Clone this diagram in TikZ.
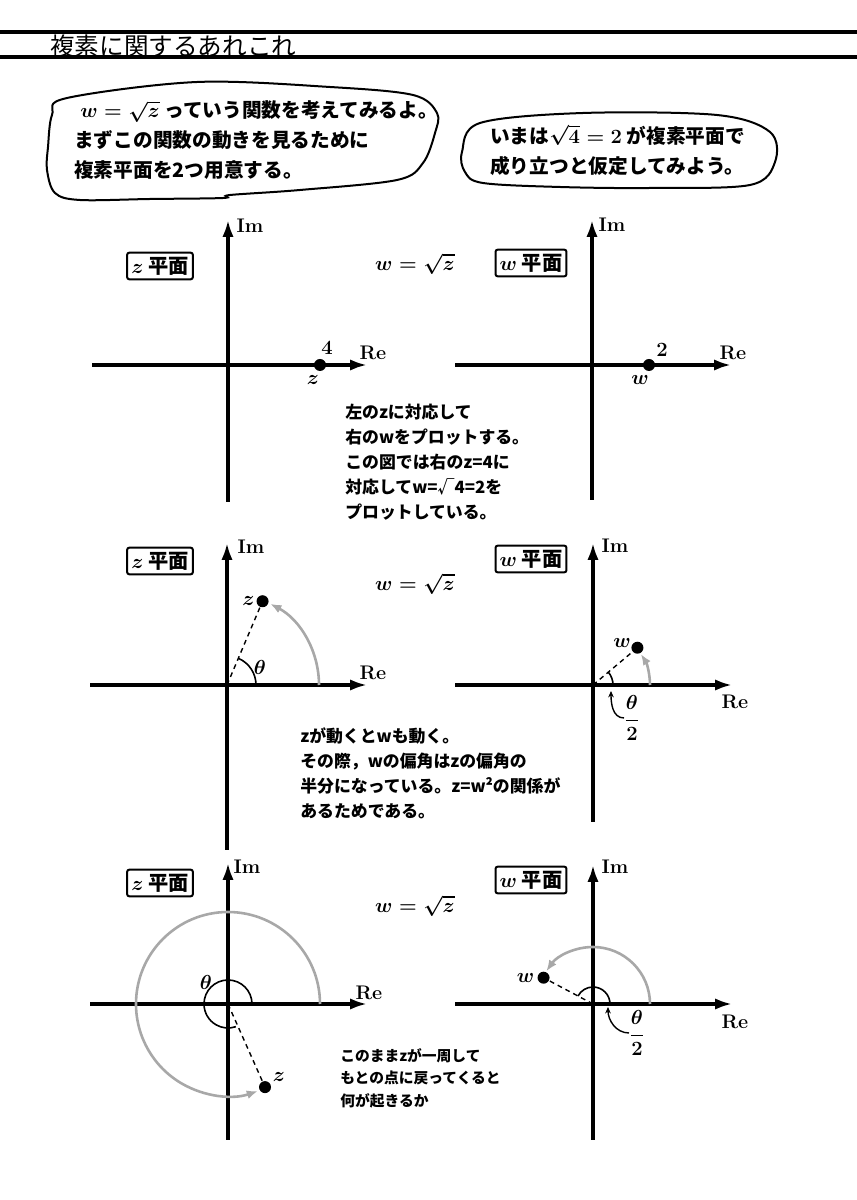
\documentclass[tikz,border=0pt]{standalone}
\usepackage{fontspec}
\newfontfamily\jp{Noto Sans CJK JP}
\definecolor{arcgray}{RGB}{168,168,168}
\usetikzlibrary{arrows.meta,positioning}

\begin{document}
\begin{tikzpicture}[x=0.25mm,y=0.25mm,
  axis/.style={line width=0.8mm,-{Latex[length=4.2mm,width=2.8mm]}},
  dot/.style={circle,fill=black,inner sep=0pt,minimum size=3mm},
  planebox/.style={draw,line width=0.5mm,rounded corners=1.5pt,inner sep=3pt,
                   font=\fontsize{14.4}{16}\selectfont\jp\bfseries\boldmath},
  axlabel/.style={font=\fontsize{14}{16}\selectfont\bfseries,inner sep=0pt},
  ptlabel/.style={font=\fontsize{14.4}{16}\selectfont\bfseries\boldmath,inner sep=0pt},
  mapping/.style={font=\fontsize{14.4}{17}\selectfont\boldmath,inner sep=0pt},
  movearc/.style={arcgray,line width=0.65mm,-{Latex[length=2.8mm,width=2.2mm]}},
  anglearc/.style={line width=0.4mm},
  dashln/.style={line width=0.35mm,dash pattern=on 1.2mm off 1mm},
  pointer/.style={line width=0.35mm,-{Stealth[length=1.6mm,width=1.4mm]}},
  bubble/.style={line width=0.5mm},
  say/.style={anchor=west,align=left,inner sep=0pt,
              font=\fontsize{14}{21.3}\selectfont\jp\bfseries\boldmath},
  note/.style={anchor=west,align=left,inner sep=0pt,
               font=\fontsize{12}{17.8}\selectfont\jp\bfseries}]
  \useasboundingbox (0,0) rectangle (857,1200);

  %% header
  \draw[line width=0.8mm] (0,1168) -- (857,1168);
  \draw[line width=0.8mm] (0,1143) -- (857,1143);
  \node[anchor=west,inner sep=0pt,font=\fontsize{17.5}{20}\selectfont\jp]
        (title) at (50,1154) {複素に関するあれこれ};

  %% speech bubbles
  \draw[bubble] plot[smooth cycle,tension=0.55] coordinates
        {(67,1102) (197,1118) (330,1113) (413,1105) (437,1087) (435,1067)
         (423,1037) (397,1020) (300,1010) (230,1005) (223,1002) (150,1001)
         (80,1000) (55,1007) (47,1030) (48,1053) (52,1085)};
  \node[say] (say1) at (74,1060)
        {\hspace{1.5mm}$w=\sqrt{z}$ っていう関数を考えてみるよ。\\
         まずこの関数の動きを見るために\\
         複素平面を2つ用意する。};
  \draw[bubble] plot[smooth cycle,tension=0.55] coordinates
        {(462,1048) (480,1077) (583,1087) (717,1085) (770,1068) (775,1038)
         (750,1015) (650,1012) (560,1013) (483,1017) (465,1028)};
  \node[say] (say2) at (490,1050)
        {いまは$\sqrt{4}=2$ が複素平面で\\
         成り立つと仮定してみよう。};

  %% Row 1: z = 4 and w = 2
  \coordinate (o1) at (228,835);
  \coordinate (x1w) at (92,835);  \coordinate (x1e) at (367,835);
  \coordinate (y1s) at (228,698); \coordinate (y1n) at (228,980);
  \draw[axis] (x1w) -- (x1e);
  \draw[axis] (y1s) -- (y1n);
  \node[axlabel] (im1) at (250,974) {Im};
  \node[axlabel] (re1) at (373,847) {Re};
  \node[planebox] (zbox1) at (160,934) {$z$ 平面};
  \node[mapping] (map1) at (415,936) {$w=\sqrt{z}$};
  \node[dot] (zdot1) at (320,835) {};
  \node[ptlabel] (zval1) at (327,852) {4};
  \node[ptlabel] (zname1) at (313,820) {$z$};

  \coordinate (p1) at (592,835);
  \coordinate (u1w) at (455,835); \coordinate (u1e) at (731,835);
  \coordinate (v1s) at (592,700); \coordinate (v1n) at (592,980);
  \draw[axis] (u1w) -- (u1e);
  \draw[axis] (v1s) -- (v1n);
  \node[axlabel] (im1r) at (612,975) {Im};
  \node[axlabel] (re1r) at (733,847) {Re};
  \node[planebox] (wbox1) at (531,937) {$w$ 平面};
  \node[dot] (wdot1) at (649,835) {};
  \node[ptlabel] (wval1) at (662,850) {2};
  \node[ptlabel] (wname1) at (640,820) {$w$};

  \node[note] (note1) at (345,738)
        {左のzに対応して\\
         右のwをプロットする。\\
         この図では右のz=4に\\
         対応してw=√4=2を\\
         プロットしている。};

  %% Row 2: z turns by theta, w by theta/2
  \coordinate (o2) at (227,515);
  \coordinate (x2w) at (90,515);  \coordinate (x2e) at (367,515);
  \coordinate (y2s) at (227,350); \coordinate (y2n) at (227,657);
  \draw[axis] (x2w) -- (x2e);
  \draw[axis] (y2s) -- (y2n);
  \node[axlabel] (im2) at (251,653) {Im};
  \node[axlabel] (re2) at (373,527) {Re};
  \node[planebox] (zbox2) at (160,639) {$z$ 平面};
  \node[mapping] (map2) at (415,616) {$w=\sqrt{z}$};
  \draw[movearc] (o2) ++(92,0) arc[start angle=0,end angle=62,radius=92];
  \node[dot] (zdot2) at ([shift={(67:91)}]o2) {};
  \draw[dashln] (o2) -- (zdot2);
  \draw[anglearc] (o2) ++(29,0) arc[start angle=0,end angle=67,radius=29];
  \node[ptlabel] (th2) at (260,533) {$\theta$};
  \node[ptlabel,left=1pt of zdot2] (zname2) {$z$};

  \coordinate (p2) at (593,515);
  \coordinate (u2w) at (455,515); \coordinate (u2e) at (732,515);
  \coordinate (v2s) at (593,378); \coordinate (v2n) at (593,657);
  \draw[axis] (u2w) -- (u2e);
  \draw[axis] (v2s) -- (v2n);
  \node[axlabel] (im2r) at (615,654) {Im};
  \node[axlabel] (re2r) at (735,498) {Re};
  \node[planebox] (wbox2) at (531,641) {$w$ 平面};
  \draw[movearc] (p2) ++(57,0) arc[start angle=0,end angle=33,radius=57];
  \node[dot] (wdot2) at ([shift={(40:58)}]p2) {};
  \draw[dashln] (p2) -- (wdot2);
  \draw[anglearc] (p2) ++(20,0) arc[start angle=0,end angle=40,radius=20];
  \node[ptlabel] (wname2) at (622,557) {$w$};
  \node[ptlabel] (half2) at (632,482) {$\displaystyle\frac{\theta}{2}$};
  \coordinate (tip2) at (611,509);
  \draw[pointer] (half2.west) to[out=180,in=-90] (tip2);

  \node[note] (note2) at (300,427)
        {zが動くとwも動く。\\
         その際，wの偏角はzの偏角の\\
         半分になっている。z=w²の関係が\\
         あるためである。};

  %% Row 3: z goes almost once round
  \coordinate (o3) at (228,196);
  \coordinate (x3w) at (90,196);  \coordinate (x3e) at (367,196);
  \coordinate (y3s) at (228,60);  \coordinate (y3n) at (228,337);
  \draw[axis] (x3w) -- (x3e);
  \draw[axis] (y3s) -- (y3n);
  \node[axlabel] (im3) at (247,333) {Im};
  \node[axlabel] (re3) at (369,207) {Re};
  \node[planebox] (zbox3) at (160,317) {$z$ 平面};
  \node[mapping] (map3) at (415,294) {$w=\sqrt{z}$};
  \draw[movearc] (o3) ++(92,0) arc[start angle=0,end angle=289,radius=92];
  \node[dot] (zdot3) at ([shift={(-66:91)}]o3) {};
  \draw[dashln] (o3) -- (zdot3);
  \draw[anglearc] (o3) ++(24,0) arc[start angle=0,end angle=289,radius=24];
  \node[ptlabel] (th3) at (206,218) {$\theta$};
  \node[ptlabel] (zname3) at (279,123) {$z$};

  \coordinate (p3) at (593,196);
  \coordinate (u3w) at (455,196); \coordinate (u3e) at (732,196);
  \coordinate (v3s) at (593,60);  \coordinate (v3n) at (593,335);
  \draw[axis] (u3w) -- (u3e);
  \draw[axis] (v3s) -- (v3n);
  \node[axlabel] (im3r) at (615,333) {Im};
  \node[axlabel] (re3r) at (735,178) {Re};
  \node[planebox] (wbox3) at (531,320) {$w$ 平面};
  \draw[movearc] (p3) ++(57,0) arc[start angle=0,end angle=145,radius=57];
  \node[dot] (wdot3) at ([shift={(152:56)}]p3) {};
  \draw[dashln] (p3) -- (wdot3);
  \draw[anglearc] (p3) ++(17,0) arc[start angle=0,end angle=152,radius=17];
  \node[ptlabel,left=2pt of wdot3] (wname3) {$w$};
  \node[ptlabel] (half3) at (637,167) {$\displaystyle\frac{\theta}{2}$};
  \coordinate (tip3) at (608,193);
  \draw[pointer] (half3.west) to[out=180,in=-90] (tip3);

  \node[note,font=\fontsize{10.5}{16}\selectfont\jp\bfseries] (note3) at (340,122)
        {このままzが一周して\\
         もとの点に戻ってくると\\
         何が起きるか};
\end{tikzpicture}
\end{document}
